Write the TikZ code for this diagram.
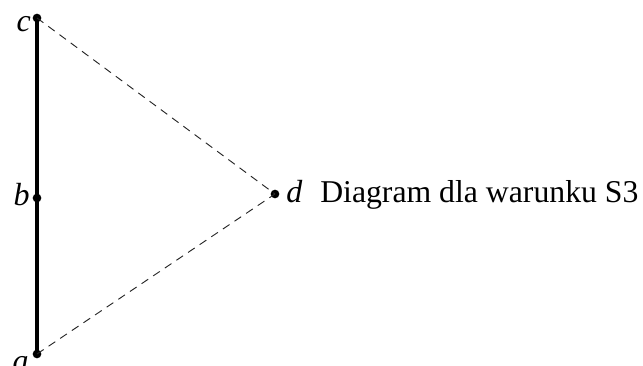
\documentclass[tikz,border=0pt]{standalone}
\usepackage{fontspec}
\setmainfont{Liberation Serif}
\begin{document}
\begin{tikzpicture}[x=0.75pt,y=-0.75pt,
  pt/.style={circle,fill=black,inner sep=0pt,minimum size=6.5pt},
  lbl/.style={inner sep=0pt,font=\fontsize{24pt}{28pt}\selectfont\itshape},
  solidedge/.style={line width=2.3pt},
  dashedge/.style={line width=0.7pt,dash pattern=on 6pt off 4.5pt,black!85}]
\useasboundingbox (0,0) rectangle (643,366);
\node[pt] (c) at (37,18) {};
\node[pt] (b) at (37,198) {};
\node[pt] (a) at (37,354) {};
\node[pt] (d) at (275,194) {};
\draw[solidedge] (c.center) -- (b.center) -- (a.center);
\draw[dashedge] (c.center) -- (d.center);
\draw[dashedge] (a.center) -- (d.center);
\node[lbl,anchor=base east] (lc) at (31,32) {c};
\node[lbl,anchor=base east] (lb) at (30,206) {b};
\node[lbl,anchor=base east] (la) at (29,372) {a};
\node[lbl,anchor=base west] (ld) at (286,203) {d};
\node[inner sep=0pt,anchor=base west,font=\fontsize{23.8pt}{28pt}\selectfont] (t) at (320,203) {Diagram dla warunku S3};
\end{tikzpicture}
\end{document}
